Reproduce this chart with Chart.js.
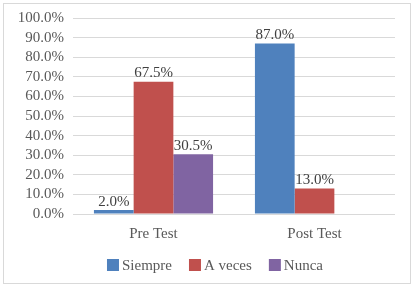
<!DOCTYPE html>
<html>
<head>
<meta charset="utf-8">
<script src="https://cdn.jsdelivr.net/npm/chart.js@4"></script>
<style>
  html, body { margin: 0; padding: 0; background: #fff; }
  #wrap { width: 414px; height: 287px; }
</style>
</head>
<body>
<div id="wrap"><canvas id="chart" width="414" height="287"></canvas></div>
<script>
// datos del gráfico
const categories = ['Pre Test', 'Post Test'];
const seriesNames = ['Siempre', 'A veces', 'Nunca'];
const siempre = [2.0, 87.0];
const aVeces = [67.5, 13.0];
const nunca = [30.5, null];
const yTicks = [0, 10, 20, 30, 40, 50, 60, 70, 80, 90, 100];

const colors = ['#4F81BD', '#C0504D', '#8064A2'];
const textColor = '#595959';
const fontFamily = "'Liberation Serif', 'Times New Roman', serif";

Chart.defaults.font.family = fontFamily;
Chart.defaults.font.size = 15;
Chart.defaults.color = textColor;

// fondo y marco
const framePlugin = {
    id: 'frame',
    beforeDraw(chart) {
        const c = chart.ctx;
        c.save();
        c.fillStyle = '#fff';
        c.fillRect(0, 0, chart.width, chart.height);
        c.strokeStyle = '#d9d9d9';
        c.lineWidth = 1;
        c.strokeRect(3.5, 3.5, chart.width - 7, chart.height - 7);
        c.restore();
    }
};

// etiquetas de valores sobre las barras
const valueLabels = {
    id: 'valueLabels',
    afterDatasetsDraw(chart) {
        const c = chart.ctx;
        c.save();
        c.font = '15px ' + fontFamily;
        c.fillStyle = '#404040';
        c.textAlign = 'center';
        c.textBaseline = 'bottom';
        chart.data.datasets.forEach((ds, i) => {
            chart.getDatasetMeta(i).data.forEach((bar, j) => {
                const v = ds.data[j];
                if (v === null || v === undefined) return;
                c.fillText(v.toFixed(1) + '%', bar.x, bar.y - 1);
            });
        });
        c.restore();
    }
};

// leyenda abajo (dibujada a mano para mantener la fuente serif)
const serifLegend = {
    id: 'serifLegend',
    afterDraw(chart) {
        const c = chart.ctx;
        const box = 12, gap = 3, spacing = 17, centerX = 215, centerY = 265;
        c.save();
        c.font = '15px ' + fontFamily;
        c.textBaseline = 'middle';
        c.textAlign = 'left';
        const items = chart.data.datasets.map(ds => ({
            text: ds.label, color: ds.backgroundColor, w: c.measureText(ds.label).width
        }));
        const total = items.reduce((s, it) => s + box + gap + it.w, 0) + spacing * (items.length - 1);
        let x = centerX - total / 2;
        items.forEach(it => {
            c.fillStyle = it.color;
            c.fillRect(x, centerY - box / 2, box, box);
            c.fillStyle = textColor;
            c.fillText(it.text, x + box + gap, centerY + 1);
            x += box + gap + it.w + spacing;
        });
        c.restore();
    }
};

new Chart(document.getElementById('chart'), {
    type: 'bar',
    data: {
        labels: categories,
        datasets: [siempre, aVeces, nunca].map((d, i) => ({
            label: seriesNames[i],
            data: d,
            backgroundColor: colors[i],
            borderWidth: 0,
            categoryPercentage: 0.74,
            barPercentage: 1.0
        }))
    },
    options: {
        responsive: false,
        animation: false,
        layout: { padding: { left: 17, right: 19, top: 18, bottom: 33 } },
        plugins: {
            legend: { display: false },
            tooltip: { enabled: false }
        },
        scales: {
            x: {
                grid: { display: false, drawTicks: false },
                border: { display: false },
                ticks: { color: textColor, padding: 11, font: { family: fontFamily, size: 15 } }
            },
            y: {
                min: 0,
                max: 100,
                afterBuildTicks: s => { s.ticks = yTicks.map(v => ({ value: v })); },
                afterFit: s => { s.width = 56; },
                grid: { color: '#d9d9d9', drawTicks: false },
                border: { display: false },
                ticks: {
                    autoSkip: false,
                    color: textColor,
                    padding: 9,
                    font: { family: fontFamily, size: 15 },
                    callback: v => v.toFixed(1) + '%'
                }
            }
        }
    },
    plugins: [framePlugin, valueLabels, serifLegend]
});
</script>
</body>
</html>
